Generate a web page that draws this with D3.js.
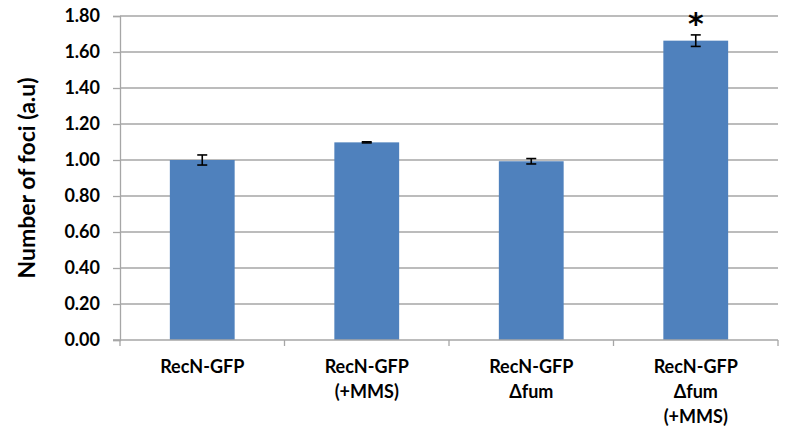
<!DOCTYPE html>
<html><head><meta charset="utf-8">
<script src="https://cdn.jsdelivr.net/npm/d3@7"></script>
<style>body{margin:0;background:#fff}</style>
</head><body>
<svg id="c" width="800" height="441"></svg>
<script>
const categories = [["RecN-GFP"],["RecN-GFP","(+MMS)"],["RecN-GFP","Δfum"],["RecN-GFP","Δfum","(+MMS)"]];
const values = [1.00, 1.098, 0.993, 1.663];
const errors = [0.028, 0.003, 0.015, 0.032];
const significance = ["", "", "", "*"];
const yTicks = [0,0.2,0.4,0.6,0.8,1.0,1.2,1.4,1.6,1.8];
const yTitle = "Number of foci (a.u)";

const svg = d3.select("#c");
const m = {l:120, r:22, t:16, b:101};
const W = 800, H = 441;
const x = d3.scaleBand().domain(d3.range(values.length)).range([m.l, W - m.r]).paddingInner(0.606).paddingOuter(0.303);
const y = d3.scaleLinear().domain([0, 1.8]).range([H - m.b, m.t]);
const font = "Lato, 'Open Sans', sans-serif";

// gridlines
svg.append("g").selectAll("line").data(yTicks.slice(1)).join("line")
  .attr("x1", m.l).attr("x2", W - m.r)
  .attr("y1", d => y(d)).attr("y2", d => y(d))
  .attr("stroke", "#a6a6a6").attr("stroke-width", 1.3);

// y axis
const ya = svg.append("g").attr("transform", `translate(${m.l},0)`)
  .call(d3.axisLeft(y).tickValues(yTicks).tickFormat(d3.format(".2f")).tickSize(7).tickPadding(13));
ya.select(".domain").attr("stroke", "#a6a6a6").attr("stroke-width", 1.3);
ya.selectAll(".tick line").attr("stroke", "#a6a6a6").attr("stroke-width", 1.3);
ya.selectAll("text").attr("font-family", font).attr("font-weight", "bold").attr("font-size", 18).attr("fill", "#000");

// bars
svg.append("g").selectAll("rect").data(values).join("rect")
  .attr("x", (d,i) => x(i)).attr("width", x.bandwidth())
  .attr("y", d => y(d)).attr("height", d => y(0) - y(d))
  .attr("fill", "#4f81bd");

// x axis
const band = (W - m.r - m.l) / values.length;
const xa = svg.append("g").attr("transform", `translate(0,${y(0)})`);
xa.append("line").attr("x1", m.l - 7).attr("x2", W - m.r).attr("stroke", "#a6a6a6").attr("stroke-width", 1.3);
xa.selectAll("line.t").data(d3.range(values.length + 1)).join("line").attr("class","t")
  .attr("x1", i => m.l + i * band).attr("x2", i => m.l + i * band)
  .attr("y1", 0).attr("y2", 6).attr("stroke", "#a6a6a6").attr("stroke-width", 1.3);

// error bars
const eg = svg.append("g").attr("stroke", "#000").attr("stroke-width", 1.6);
values.forEach((v, i) => {
  const cx = x(i) + x.bandwidth() / 2;
  const y1 = y(v + errors[i]), y2 = y(v - errors[i]);
  eg.append("line").attr("x1", cx).attr("x2", cx).attr("y1", y1).attr("y2", y2);
  eg.append("line").attr("x1", cx - 5).attr("x2", cx + 5).attr("y1", y1).attr("y2", y1);
  eg.append("line").attr("x1", cx - 5).attr("x2", cx + 5).attr("y1", y2).attr("y2", y2);
  if (significance[i]) {
    svg.append("text").attr("x", cx).attr("y", y(v + errors[i]) - 1)
      .attr("text-anchor", "middle").attr("font-family", "DejaVu Sans, sans-serif")
      .attr("font-weight", "bold").attr("font-size", 30).attr("fill", "#000").text(significance[i]);
  }
});

// category labels
categories.forEach((lines, i) => {
  const cx = x(i) + x.bandwidth() / 2;
  const t = svg.append("text").attr("text-anchor", "middle").attr("font-family", font)
    .attr("font-weight", "bold").attr("font-size", 18).attr("fill", "#000");
  lines.forEach((s, k) => t.append("tspan").attr("x", cx).attr("y", 373 + k * 25).text(s));
});

// y title
svg.append("text").attr("transform", `translate(35,${(y(0)+y(1.8))/2}) rotate(-90)`)
  .attr("text-anchor", "middle").attr("font-family", font).attr("font-weight", "bold")
  .attr("font-size", 23).attr("fill", "#000").text(yTitle);
</script>
</body></html>
